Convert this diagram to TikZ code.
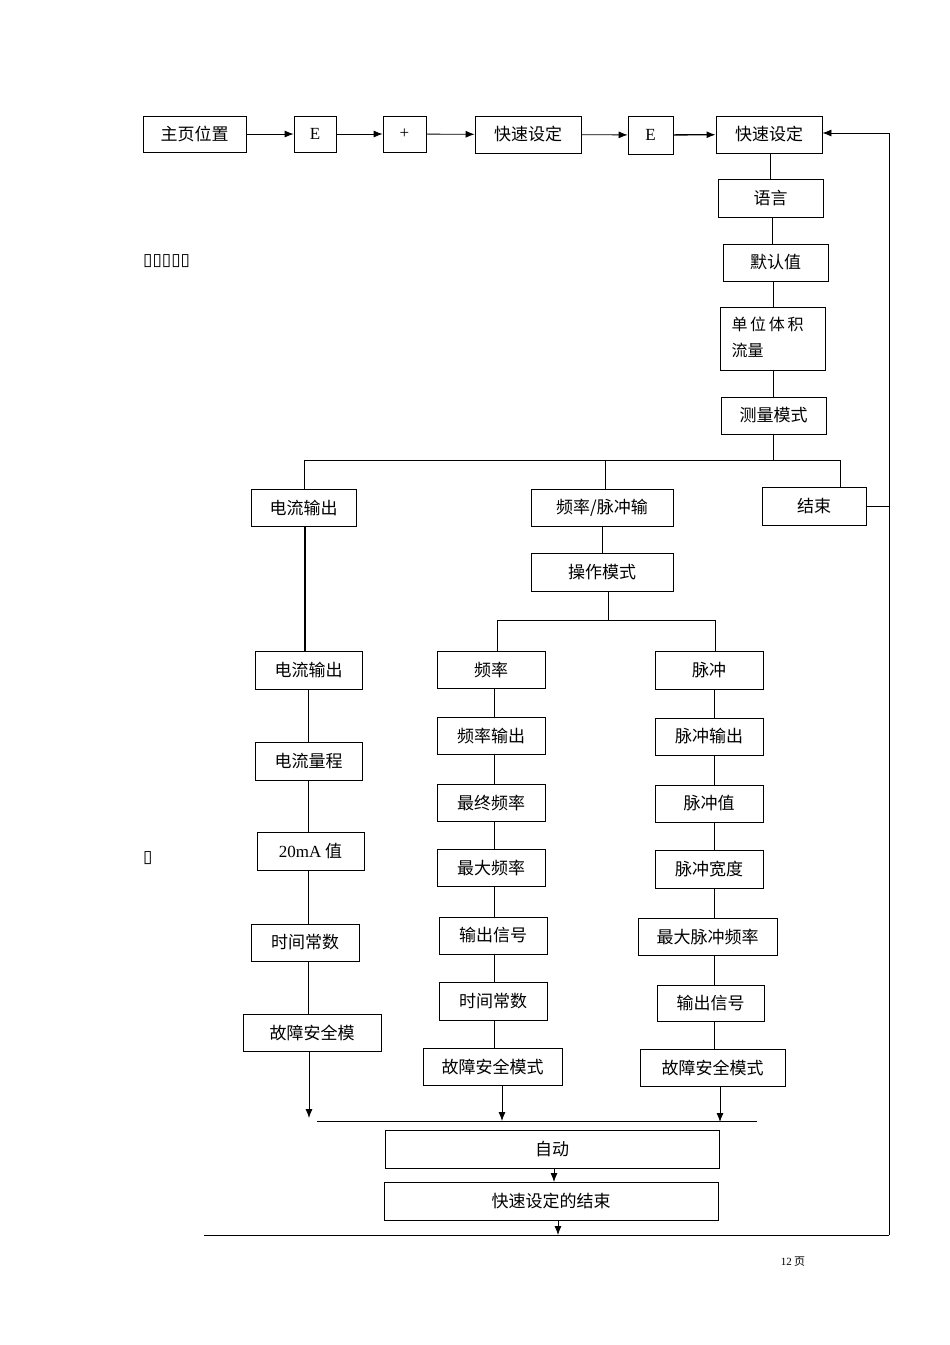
\documentclass[tikz,border=0pt]{standalone}
\usepackage{fontspec}
\setmainfont{Noto Sans CJK SC}
\newfontfamily\latinf{Liberation Serif}
\newfontfamily\symf{DejaVu Sans}
\usetikzlibrary{arrows.meta}
\begin{document}
\begin{tikzpicture}[x=1pt,y=-1pt,
  bx/.style={draw,line width=0.8pt,inner sep=0pt,font=\fontsize{17}{20}\selectfont},
  ln/.style={line width=0.8pt},
  ar/.style={line width=0.8pt,-{Latex[length=9pt,width=7pt]}}]
\useasboundingbox (0,0) rectangle (950,1345);
\newcommand\B[6]{\node[bx,minimum width=#3-#2,minimum height=#5-#4] (#1) at ({(#2+#3)/2},{(#4+#5)/2}) {#6};}
\B{h}{143}{246}{116}{152}{主页位置}
\B{e1}{294}{336}{116}{152}{\latinf E}
\B{p}{383}{426}{116}{152}{\latinf +}
\B{q1}{475}{581}{116}{153}{快速设定}
\B{e2}{628}{673}{116}{154}{\latinf E}
\B{q2}{716}{822}{116}{153}{快速设定}
\B{lang}{718}{823}{179}{217}{语言}
\B{def}{723}{828}{244}{281}{默认值}
\B{unit}{720}{825}{307}{370}{}
\node[anchor=north west,font=\fontsize{16}{26}\selectfont,align=left] (unitt) at (728,313) {单\,位\,体\,积\\流量};
\B{mode}{721}{826}{397}{434}{测量模式}
\B{cur}{251}{356}{489}{526}{电流输出}
\B{fp}{531}{673}{489}{526}{频率/脉冲输}
\B{end}{762}{866}{487}{525}{结束}
\B{op}{531}{673}{553}{591}{操作模式}
\B{c1}{255}{362}{651}{689}{电流输出}
\B{c2}{255}{362}{742}{780}{电流量程}
\B{c3}{257}{364}{832}{870}{{\latinf 20mA} 值}
\B{c4}{251}{359}{924}{961}{时间常数}
\B{c5}{243}{381}{1014}{1051}{故障安全模}
\B{f1}{437}{545}{651}{688}{频率}
\B{f2}{437}{545}{717}{754}{频率输出}
\B{f3}{437}{545}{784}{821}{最终频率}
\B{f4}{437}{545}{849}{886}{最大频率}
\B{f5}{439}{547}{917}{954}{输出信号}
\B{f6}{439}{547}{982}{1020}{时间常数}
\B{f7}{423}{562}{1048}{1085}{故障安全模式}
\B{p1}{655}{763}{651}{689}{脉冲}
\B{p2}{655}{763}{718}{755}{脉冲输出}
\B{p3}{655}{763}{785}{822}{脉冲值}
\B{p4}{655}{763}{850}{888}{脉冲宽度}
\B{p5}{638}{777}{918}{955}{最大脉冲频率}
\B{p6}{657}{764}{985}{1021}{输出信号}
\B{p7}{640}{785}{1049}{1086}{故障安全模式}
\B{auto}{385}{719}{1130}{1168}{自动}
\B{qend}{384}{718}{1182}{1220}{快速设定的结束}
\node[font=\symf\fontsize{17}{18}\selectfont,anchor=west,inner sep=0pt] (t1) at (143,261) {▯▯▯▯▯};
\node[font=\symf\fontsize{17}{18}\selectfont,anchor=west,inner sep=0pt] (t2) at (143,858) {▯};
\node[font=\fontsize{11}{13}\selectfont] (pg) at (793,1262) {{\latinf 12} 页};
% top row
\draw[ar] (h) -- (e1); \draw[ar] (e1) -- (p); \draw[ar] (p) -- (q1);
\draw[ar] (q1) -- (e2); \draw[ar,line width=1.3pt] (e2) -- (q2);
\draw[ln] (770,153) -- (770,179); \draw[ln] (772,217) -- (772,244);
\draw[ln] (773,281) -- (773,307); \draw[ln] (773,370) -- (773,397);
\coordinate (br) at (773,461);
\draw[ln] (mode.south -| br) -- (br);
\draw[ln] (304,460) -- (840,460);
\draw[ln] (304,460) -- (cur.north -| 304,0);
\draw[ln] (605,460) -- (fp.north -| 605,0);
\draw[ln] (840,460) -- (end.north -| 840,0);
\coordinate (rt) at (889,1235); \coordinate (rtop) at (889,133);
\draw[ln] (end.east) -- (end.east -| rt);
\draw[ln] (rt) -- (rtop);
\draw[ar] (rtop) -- (rtop -| q2.east);
\draw[ln] (602,526) -- (602,553);
\draw[ln] (608,591) -- (608,620); \draw[ln] (497,620) -- (715,620);
\draw[ln] (497,620) -- (497,651); \draw[ln] (715,620) -- (715,651);
% current column
\draw[line width=1.6pt] (305,526) -- (305,651);
\draw[ln] (308,689) -- (308,742); \draw[ln] (308,780) -- (308,832);
\draw[ln] (308,870) -- (308,924); \draw[ln] (308,961) -- (308,1014);
\draw[ar] (309,1051) -- (309,1118);
% freq column
\foreach \a/\b in {f1/f2,f2/f3,f3/f4,f4/f5,f5/f6,f6/f7} \draw[ln] (\a.south -| 494,0) -- (\b.north -| 494,0);
\draw[ar] (502,1085) -- (502,1121);
% pulse column
\foreach \a/\b in {p1/p2,p2/p3,p3/p4,p4/p5,p5/p6,p6/p7} \draw[ln] (\a.south -| 714,0) -- (\b.north -| 714,0);
\draw[ar] (720,1086) -- (720,1122);
\draw[ln] (317,1121) -- (757,1121);
\draw[ar] (554,1168) -- (554,1182);
\draw[ar] (558,1220) -- (558,1235);
\draw[ln] (204,1235) -- (rt);
\end{tikzpicture}
\end{document}
